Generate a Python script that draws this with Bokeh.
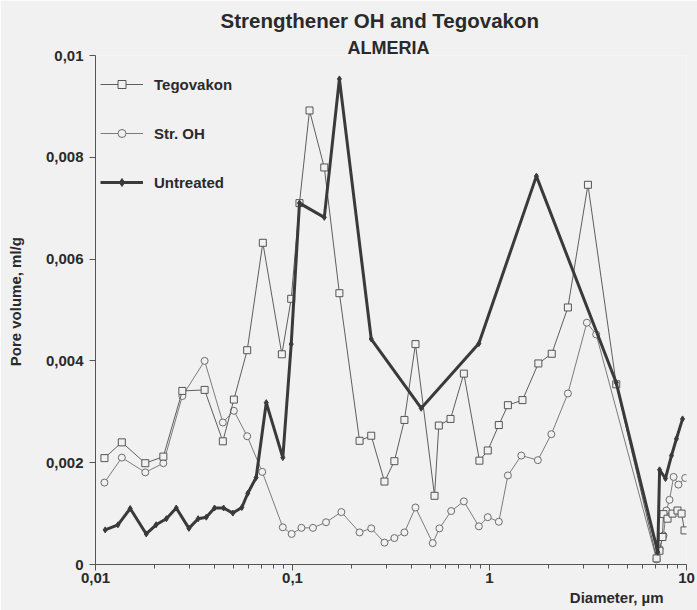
from bokeh.plotting import figure
from bokeh.models import (FixedTicker, CustomJSTickFormatter, Legend,
                          LegendItem, Range1d, Title)
from bokeh.embed import file_html
from bokeh.resources import INLINE

# ---------------- data ----------------
teg_d = [0.0111, 0.0136, 0.0179, 0.0221, 0.0276, 0.0358, 0.0443, 0.0504, 0.0589,
         0.0707, 0.0883, 0.0985, 0.1085, 0.122, 0.145, 0.173, 0.219, 0.251, 0.293,
         0.329, 0.370, 0.421, 0.526, 0.553, 0.634, 0.741, 0.889, 0.980, 1.115,
         1.24, 1.47, 1.77, 2.07, 2.50, 3.16, 4.40, 7.05, 7.29, 7.55, 7.64, 8.01,
         8.49, 9.00, 9.44, 9.77]
teg_v = [0.00209, 0.00240, 0.00199, 0.00212, 0.00341, 0.00343, 0.00242, 0.00324,
         0.00421, 0.00632, 0.00413, 0.00522, 0.00710, 0.00892, 0.00780, 0.00533,
         0.00243, 0.00253, 0.00163, 0.00203, 0.00284, 0.00433, 0.00135, 0.00273,
         0.00286, 0.00375, 0.00204, 0.00224, 0.00274, 0.00313, 0.00323, 0.00395,
         0.00414, 0.00505, 0.00746, 0.00354, 0.00012, 0.00027, 0.00054, 0.00099,
         0.00090, 0.00100, 0.00106, 0.00100, 0.00067]

oh_d = [0.0111, 0.0136, 0.0179, 0.0221, 0.0276, 0.0358, 0.0443, 0.0504, 0.0589,
        0.0702, 0.0893, 0.0990, 0.111, 0.127, 0.148, 0.177, 0.219, 0.251, 0.293,
        0.329, 0.370, 0.421, 0.515, 0.557, 0.639, 0.741, 0.883, 0.980, 1.115,
        1.24, 1.45, 1.76, 2.06, 2.50, 3.12, 3.48, 7.05, 7.29, 7.64, 7.90, 8.20,
        8.60, 9.10, 9.85]
oh_v = [0.00161, 0.00210, 0.00181, 0.00199, 0.00331, 0.00400, 0.00279, 0.00302,
        0.00252, 0.00182, 0.00073, 0.00060, 0.00072, 0.00072, 0.00083, 0.00103,
        0.00063, 0.00071, 0.00043, 0.00052, 0.00063, 0.00112, 0.00042, 0.00071,
        0.00105, 0.00124, 0.00075, 0.00093, 0.00084, 0.00175, 0.00214, 0.00205,
        0.00256, 0.00336, 0.00475, 0.00452, 0.00010, 0.00031, 0.00057, 0.00106,
        0.00127, 0.00172, 0.00157, 0.00170]

un_d = [0.0112, 0.0130, 0.0150, 0.0181, 0.0203, 0.0229, 0.0257, 0.0298, 0.0332,
        0.0365, 0.0402, 0.0447, 0.0498, 0.0553, 0.0593, 0.0654, 0.0736, 0.0893,
        0.0985, 0.1085, 0.145, 0.173, 0.251, 0.450, 0.883, 1.73, 4.40, 7.15,
        7.30, 7.82, 8.39, 8.89, 9.55]
un_v = [0.00068, 0.00078, 0.00110, 0.00060, 0.00078, 0.00090, 0.00111, 0.00071,
        0.00090, 0.00093, 0.00111, 0.00111, 0.00101, 0.00112, 0.00140, 0.00171,
        0.00318, 0.00210, 0.00433, 0.00710, 0.00682, 0.00954, 0.00443, 0.00307,
        0.00434, 0.00763, 0.00357, 0.00024, 0.00186, 0.00169, 0.00214, 0.00247,
        0.00286]

x_major = [0.01, 0.1, 1, 10]
x_minor = ([k * 0.01 for k in range(2, 10)] + [k * 0.1 for k in range(2, 10)]
           + [k * 1.0 for k in range(2, 10)])
y_major = [0, 0.002, 0.004, 0.006, 0.008, 0.01]

title_text = "Strengthener OH and Tegovakon"
subtitle_text = "ALMERIA"
x_label = "Diameter, \u00b5m"
y_label = "Pore volume, ml/g"

# ---------------- styling ----------------
BG = "#f1f1f1"
TXT = "#2a2a2a"
FONT = "Liberation Sans"

p = figure(width=697, height=610, x_axis_type="log",
           x_range=Range1d(0.01, 10), y_range=Range1d(0, 0.01),
           output_backend="svg", toolbar_location=None,
           min_border_left=95, min_border_right=11, min_border_top=55,
           min_border_bottom=46)
p.background_fill_color = BG
p.border_fill_color = BG
p.outline_line_color = None
p.xgrid.visible = False
p.ygrid.visible = False

fmt_x = CustomJSTickFormatter(code="""
var s = parseFloat(tick.toPrecision(6)).toString();
return s.replace(".", ",");
""")
fmt_y = CustomJSTickFormatter(code="""
if (Math.abs(tick) < 1e-12) return "0";
var s = parseFloat(tick.toPrecision(6)).toString();
return s.replace(".", ",");
""")

xa = p.xaxis[0]
xa.ticker = FixedTicker(ticks=x_major, minor_ticks=x_minor)
xa.formatter = fmt_x
ya = p.yaxis[0]
ya.ticker = FixedTicker(ticks=y_major, minor_ticks=[])
ya.formatter = fmt_y

for ax in (xa, ya):
    ax.axis_line_color = "#555555"
    ax.major_tick_line_color = "#555555"
    ax.minor_tick_line_color = "#555555"
    ax.major_tick_in = 0
    ax.minor_tick_in = 0
    ax.major_label_text_font = FONT
    ax.major_label_text_font_size = "15px"
    ax.major_label_text_font_style = "bold"
    ax.major_label_text_color = TXT
xa.major_tick_out = 6
xa.minor_tick_out = 4
xa.major_label_standoff = 2
ya.major_tick_out = 6
ya.major_label_standoff = 6
ya.axis_label = "\u00a0\u00a0\u00a0\u00a0" + y_label
ya.axis_label_standoff = 19
ya.axis_label_text_font = FONT
ya.axis_label_text_font_size = "15px"
ya.axis_label_text_font_style = "bold"
ya.axis_label_text_color = TXT

# ---------------- series ----------------
oh_line = p.line(oh_d, oh_v, line_color="#7c7c7c", line_width=1)
oh_mark = p.scatter(oh_d, oh_v, marker="circle", size=7, line_color="#6c6c6c",
                    fill_color=BG, line_width=1)
teg_line = p.line(teg_d, teg_v, line_color="#5e5e5e", line_width=1)
teg_mark = p.scatter(teg_d, teg_v, marker="square", size=7, line_color="#555555",
                     fill_color=BG, line_width=1)
un_line = p.line(un_d, un_v, line_color="#3a3a3a", line_width=3)
un_mark = p.scatter(un_d, un_v, marker="diamond", size=6, line_color="#3a3a3a",
                    fill_color="#3a3a3a")

legend = Legend(items=[
    LegendItem(label="Tegovakon", renderers=[teg_line, teg_mark]),
    LegendItem(label="Str. OH", renderers=[oh_line, oh_mark]),
    LegendItem(label="Untreated", renderers=[un_line, un_mark]),
], location=(0, 367))
legend.glyph_width = 43
legend.glyph_height = 20
legend.label_height = 20
legend.spacing = 29
legend.padding = 5
legend.margin = 0
legend.label_standoff = 11
legend.background_fill_alpha = 0
legend.border_line_alpha = 0
legend.label_text_font = FONT
legend.label_text_font_size = "15px"
legend.label_text_font_style = "bold"
legend.label_text_color = TXT
p.add_layout(legend)

# ---------------- titles ----------------
p.title.text = title_text
p.title.align = "left"
p.title.offset = 125
p.title.standoff = 11
p.title.text_font = FONT
p.title.text_font_size = "20.5px"
p.title.text_font_style = "bold"
p.title.text_color = TXT

sub_title = Title(text=subtitle_text, align="left", offset=252, standoff=-4,
                  text_font=FONT, text_font_size="18px", text_font_style="bold",
                  text_color=TXT)
p.add_layout(sub_title, "above")

xlab = Title(text=x_label, align="right", offset=23, standoff=2,
             text_font=FONT, text_font_size="15px", text_font_style="bold",
             text_color=TXT)
p.add_layout(xlab, "below")

open("out.html", "w").write(file_html(p, INLINE))
